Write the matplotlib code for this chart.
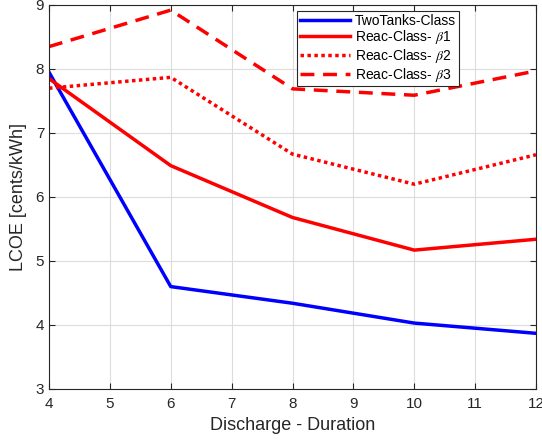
import matplotlib
matplotlib.use("Agg")
import matplotlib.pyplot as plt

plt.rcParams['font.family'] = ['Liberation Sans', 'DejaVu Sans']
plt.rcParams['mathtext.fontset'] = 'stix'

x = [4, 6, 8, 10, 12]
two_tanks = [7.95, 4.60, 4.34, 4.03, 3.87]
reac_b1 = [7.85, 6.49, 5.68, 5.17, 5.34]
reac_b2 = [7.70, 7.87, 6.67, 6.20, 6.66]
reac_b3 = [8.35, 8.92, 7.69, 7.59, 7.97]
labels = ['TwoTanks-Class', r'Reac-Class- $\beta$1', r'Reac-Class- $\beta$2', r'Reac-Class- $\beta$3']

fig = plt.figure(figsize=(5.42, 4.42), dpi=100)
ax = fig.add_axes([49/542, 1 - 389/442, (536-49)/542, (389-5)/442])

ax.plot(x, two_tanks, color='#0000ff', lw=2.5, label=labels[0])
ax.plot(x, reac_b1, color='#ff0000', lw=2.5, label=labels[1])
ax.plot(x, reac_b2, color='#ff0000', lw=2.5, ls=(0, (1, 1)), label=labels[2])
ax.plot(x, reac_b3, color='#ff0000', lw=2.5, ls=(0, (4, 2.5)), label=labels[3])

ax.set_xlim(4, 12)
ax.set_ylim(3, 9)
ax.set_xticks(range(4, 13))
ax.set_yticks(range(3, 10))
ax.grid(True, color='#dcdcdc', lw=0.8)
ax.set_axisbelow(True)
ax.tick_params(direction='in', top=True, right=True, labelsize=11, colors='#262626', length=4)
ax.tick_params(axis='x', pad=6)
for s in ax.spines.values():
    s.set_color('#262626')
    s.set_linewidth(0.8)
ax.set_xlabel('Discharge - Duration', fontsize=13, color='#262626', labelpad=4)
ax.set_ylabel('LCOE [cents/kWh]', fontsize=13, color='#262626', labelpad=6)

leg = ax.legend(loc='upper right', bbox_to_anchor=(0.842, 0.985), fontsize=10,
                frameon=True, fancybox=False, edgecolor='#262626', framealpha=1,
                handlelength=3.6, borderpad=0.2, labelspacing=0.05, handletextpad=0.4,
                borderaxespad=0)
leg.get_frame().set_linewidth(0.8)

fig.savefig('out.png', dpi=100)
